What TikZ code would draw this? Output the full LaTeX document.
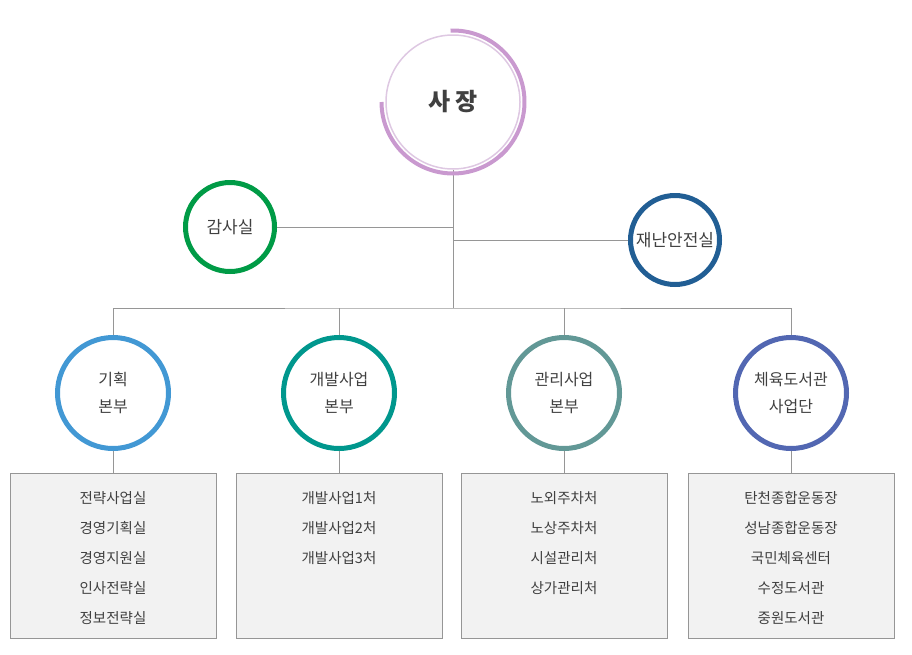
\documentclass[tikz,border=0pt]{standalone}
\usepackage{fontspec}
\setmainfont{Noto Sans CJK KR}
\definecolor{ceocol}{RGB}{201,153,207}
\definecolor{ceoring}{RGB}{222,200,226}
\definecolor{auditcol}{RGB}{0,155,70}
\definecolor{safecol}{RGB}{33,94,148}
\definecolor{plancol}{RGB}{66,152,212}
\definecolor{devcol}{RGB}{0,151,141}
\definecolor{mgmtcol}{RGB}{98,152,150}
\definecolor{sportcol}{RGB}{82,103,178}
\definecolor{linecol}{RGB}{150,150,150}
\definecolor{boxfill}{RGB}{242,242,242}
\definecolor{txtcol}{RGB}{64,64,64}
\begin{document}
\begin{tikzpicture}[x=1pt,y=1pt,
    unit/.style={circle,draw=#1,line width=5pt,minimum size=111pt,inner sep=0pt,
      text=txtcol,align=center,font=\fontsize{16}{27}\selectfont},
    staff/.style={circle,draw=#1,line width=5pt,minimum size=89pt,inner sep=0pt,
      text=txtcol,font=\fontsize{17}{20}\selectfont},
    dept/.style={rectangle,draw=linecol,fill=boxfill,line width=1pt,
      minimum width=206pt,minimum height=165pt,inner sep=0pt},
    items/.style={anchor=north,align=center,inner sep=0pt,text=txtcol,
      font=\fontsize{14.5}{30}\selectfont},
    link/.style={draw=linecol,line width=1pt}]
  \useasboundingbox (0,0) rectangle (912,-654);
  \draw
    (453,-102) node[circle,draw=ceoring,line width=1.5pt,minimum size=134pt,
      text=txtcol,font=\fontsize{24}{28}\selectfont\bfseries] (ceo){사 장}
    (230,-227) node[staff=auditcol] (audit){감사실}
    (675,-240) node[staff=safecol] (safety){재난안전실}
    (113,-393) node[unit=plancol] (plan){기획\\본부}
    (339,-393) node[unit=devcol] (dev){개발사업\\본부}
    (564,-393) node[unit=mgmtcol] (mgmt){관리사업\\본부}
    (791,-393) node[unit=sportcol] (sport){체육도서관\\사업단}
    (113,-555.5) node[dept] (b1){}
    (339,-555.5) node[dept] (b2){}
    (564,-555.5) node[dept] (b3){}
    (791,-555.5) node[dept] (b4){};
  \node[items] (t1) at ([yshift=-19]b1.north) {전략사업실\\경영기획실\\경영지원실\\인사전략실\\정보전략실};
  \node[items] (t2) at ([yshift=-19]b2.north) {개발사업1처\\개발사업2처\\개발사업3처};
  \node[items] (t3) at ([yshift=-19]b3.north) {노외주차처\\노상주차처\\시설관리처\\상가관리처};
  \node[items] (t4) at ([yshift=-19]b4.north) {탄천종합운동장\\성남종합운동장\\국민체육센터\\수정도서관\\중원도서관};
  \coordinate (bus) at (453,-308);
  \begin{scope}[link]
    \draw (ceo) -- (bus);
    \draw (audit) -- (audit -| bus);
    \draw (safety) -- (safety -| bus);
    \draw (plan) |- (bus) -| (sport);
    \draw (dev) -- (dev |- bus);
    \draw (mgmt) -- (mgmt |- bus);
    \draw (plan) -- (b1);
    \draw (dev) -- (b2);
    \draw (mgmt) -- (b3);
    \draw (sport) -- (b4);
  \end{scope}
  \draw[ceocol,line width=4pt] ([shift={(92:71.5)}]ceo.center) arc[start angle=92,end angle=-50,radius=71.5];
  \draw[ceocol,line width=4pt] ([shift={(180:71.5)}]ceo.center) arc[start angle=180,end angle=320,radius=71.5];
\end{tikzpicture}
\end{document}
